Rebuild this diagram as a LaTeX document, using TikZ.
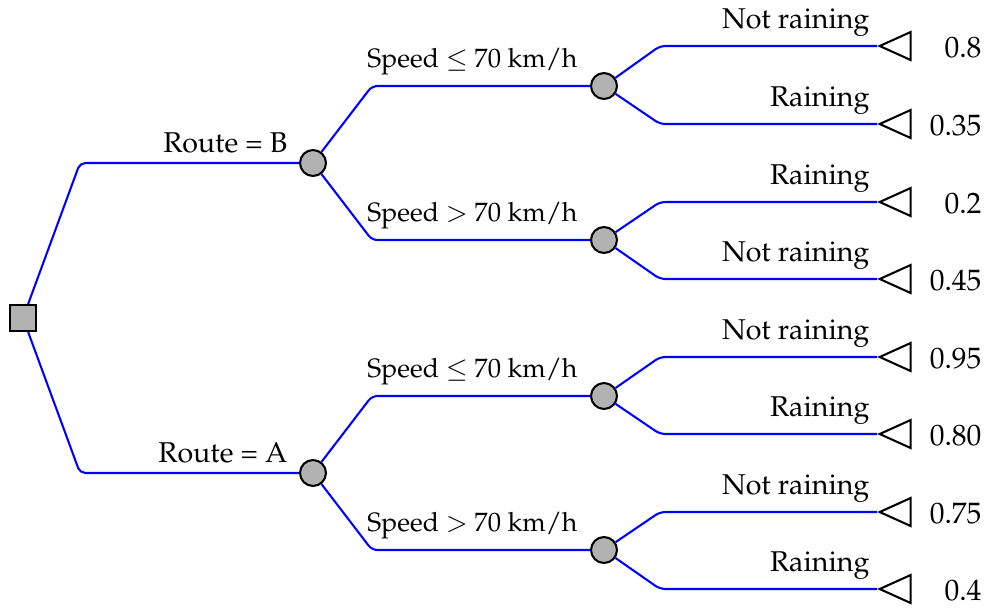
\documentclass[tikz,border=0pt]{standalone}
\usepackage[T1]{fontenc}
\usepackage{mathpazo}
\usetikzlibrary{shapes.geometric,calc}
\begin{document}
\begin{tikzpicture}[x=0.339pt,y=-0.339pt,
  edge/.style={blue, line width=0.7pt, rounded corners=1.8pt},
  decision/.style={rectangle, draw, fill=black!30, line width=0.7pt, minimum size=8.8pt, inner sep=0pt},
  chance/.style={circle, draw, fill=black!30, line width=0.7pt, minimum size=8.8pt, inner sep=0pt},
  leaf/.style={isosceles triangle, draw, line width=0.7pt, shape border rotate=180,
    isosceles triangle stretches, minimum width=9.5pt, minimum height=10.5pt, inner sep=0pt},
  lab/.style={anchor=base east, inner sep=0pt, font=\fontsize{9.7pt}{12pt}\selectfont},
  speedlab/.style={anchor=base east, inner sep=0pt, font=\small},
  val/.style={anchor=east, inner sep=0pt}]
\useasboundingbox (0,0) rectangle (986,607);

% decision and chance nodes
\node[decision] (root) at (23,318) {};
\node[chance] (rB) at (313,163) {};
\node[chance] (rA) at (313,473) {};
\node[chance] (b1) at (604,86) {};
\node[chance] (b2) at (604,240) {};
\node[chance] (a1) at (604,396) {};
\node[chance] (a2) at (604,550) {};

% terminal nodes
\node[leaf, anchor=apex] (l1) at (877,46) {};
\node[leaf, anchor=apex] (l2) at (877,124) {};
\node[leaf, anchor=apex] (l3) at (877,202) {};
\node[leaf, anchor=apex] (l4) at (877,279) {};
\node[leaf, anchor=apex] (l5) at (877,357) {};
\node[leaf, anchor=apex] (l6) at (877,434) {};
\node[leaf, anchor=apex] (l7) at (877,512) {};
\node[leaf, anchor=apex] (l8) at (877,589) {};

% branches
\draw[edge] (root) -- ($(root|-rB)+(57,0)$) -- (rB);
\draw[edge] (root) -- ($(root|-rA)+(57,0)$) -- (rA);
\draw[edge] (rB) -- ($(rB|-b1)+(59,0)$) -- (b1);
\draw[edge] (rB) -- ($(rB|-b2)+(59,0)$) -- (b2);
\draw[edge] (rA) -- ($(rA|-a1)+(59,0)$) -- (a1);
\draw[edge] (rA) -- ($(rA|-a2)+(59,0)$) -- (a2);
\draw[edge] (b1) -- ($(b1|-l1)+(56,0)$) -- (l1);
\draw[edge] (b1) -- ($(b1|-l2)+(56,0)$) -- (l2);
\draw[edge] (b2) -- ($(b2|-l3)+(56,0)$) -- (l3);
\draw[edge] (b2) -- ($(b2|-l4)+(56,0)$) -- (l4);
\draw[edge] (a1) -- ($(a1|-l5)+(56,0)$) -- (l5);
\draw[edge] (a1) -- ($(a1|-l6)+(56,0)$) -- (l6);
\draw[edge] (a2) -- ($(a2|-l7)+(56,0)$) -- (l7);
\draw[edge] (a2) -- ($(a2|-l8)+(56,0)$) -- (l8);

% branch labels
\node[lab] (tB) at (288,152) {Route = B};
\node[lab] (tA) at (288,462) {Route = A};
\node[speedlab] (t1) at (578,67) {Speed $\leq$ 70 km/h};
\node[speedlab] (t2) at (578,221) {Speed $>$ 70 km/h};
\node[speedlab] (t3) at (578,377) {Speed $\leq$ 70 km/h};
\node[speedlab] (t4) at (578,531) {Speed $>$ 70 km/h};
\node[lab] (s1) at (870,28) {Not raining};
\node[lab] (s2) at (870,106) {Raining};
\node[lab] (s3) at (870,184) {Raining};
\node[lab] (s4) at (870,261) {Not raining};
\node[lab] (s5) at (870,339) {Not raining};
\node[lab] (s6) at (870,416) {Raining};
\node[lab] (s7) at (870,494) {Not raining};
\node[lab] (s8) at (870,571) {Raining};

% payoffs
\node[val] (v1) at (982,48) {0.8};
\node[val] (v2) at (982,126) {0.35};
\node[val] (v3) at (982,204) {0.2};
\node[val] (v4) at (982,281) {0.45};
\node[val] (v5) at (982,359) {0.95};
\node[val] (v6) at (982,436) {0.80};
\node[val] (v7) at (982,514) {0.75};
\node[val] (v8) at (982,591) {0.4};
\end{tikzpicture}
\end{document}
